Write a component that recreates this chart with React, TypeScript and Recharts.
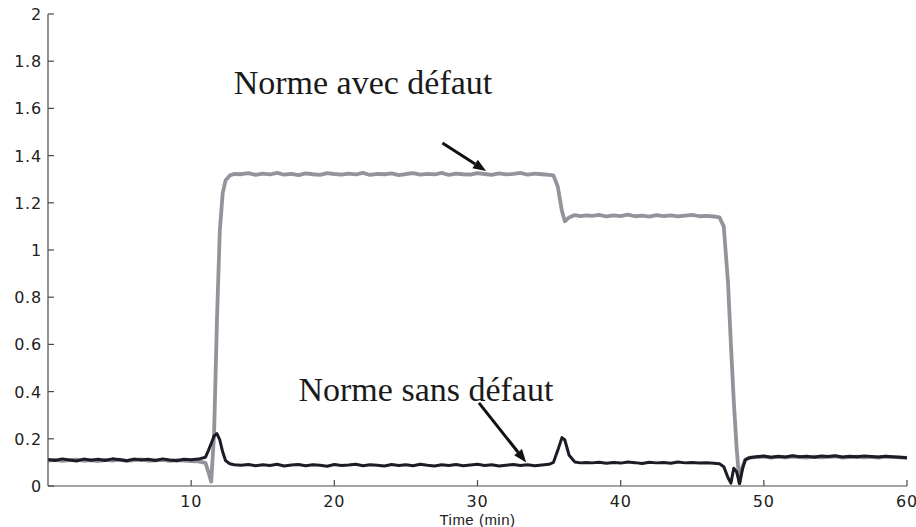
import React from "react"
import { LineChart, Line, XAxis, YAxis, ReferenceLine, ReferenceDot } from "recharts"

const time = [
  0, 0.5, 1, 1.5, 2, 2.5, 3, 3.5, 4, 4.5, 5, 5.5, 6, 6.5, 7, 7.5, 8, 8.5, 9, 9.5, 10, 10.5, 11,
  11.2, 11.4, 11.6, 11.8, 12, 12.2, 12.4, 12.7, 13,
  13.5, 14, 14.5, 15, 15.5, 16, 16.5, 17, 17.5, 18, 18.5, 19, 19.5, 20, 20.5, 21, 21.5, 22, 22.5, 23, 23.5, 24,
  24.5, 25, 25.5, 26, 26.5, 27, 27.5, 28, 28.5, 29, 29.5, 30, 30.5, 31, 31.5, 32, 32.5, 33, 33.5, 34, 34.5, 35,
  35.3, 35.6, 35.9, 36.1, 36.4, 36.8, 37.2, 37.6,
  38, 38.5, 39, 39.5, 40, 40.5, 41, 41.5, 42, 42.5, 43, 43.5, 44, 44.5, 45, 45.5, 46, 46.5,
  46.9, 47.2, 47.5, 47.7, 47.9, 48.1, 48.3, 48.5, 48.7, 49,
  49.5, 50, 50.5, 51, 51.5, 52, 52.5, 53, 53.5, 54, 54.5, 55, 55.5, 56, 56.5, 57, 57.5, 58, 58.5, 59, 59.5, 60,
]

// norme avec défaut (gris)
const normeAvecDefaut = [
  0.108, 0.111, 0.106, 0.11, 0.112, 0.107, 0.11, 0.105, 0.111, 0.108, 0.112, 0.106, 0.11, 0.113, 0.107, 0.109,
  0.111, 0.106, 0.11, 0.108, 0.106, 0.104, 0.098,
  0.06, 0.018, 0.22, 0.7, 1.08, 1.24, 1.295, 1.316, 1.322,
  1.321, 1.326, 1.318, 1.324, 1.32, 1.327, 1.319, 1.323, 1.317, 1.325,
  1.321, 1.318, 1.326, 1.322, 1.319, 1.324, 1.32, 1.327, 1.318, 1.323,
  1.321, 1.325, 1.317, 1.322, 1.326, 1.319, 1.323, 1.32, 1.327, 1.318,
  1.324, 1.321, 1.319, 1.326, 1.322, 1.318, 1.325, 1.32, 1.323, 1.327,
  1.319, 1.324, 1.321, 1.318,
  1.316, 1.27, 1.165, 1.122, 1.138, 1.148, 1.144, 1.147,
  1.145, 1.149, 1.142, 1.147, 1.144, 1.15, 1.143, 1.146, 1.141, 1.148, 1.144, 1.147, 1.142, 1.146, 1.149, 1.143,
  1.145, 1.142,
  1.138, 1.1, 0.86, 0.6, 0.36, 0.16, 0.012, 0.08, 0.112, 0.12,
  0.122, 0.124, 0.12, 0.123, 0.121, 0.125, 0.122, 0.12, 0.124, 0.121, 0.123, 0.125, 0.12, 0.122, 0.124, 0.121,
  0.123, 0.12, 0.124, 0.122, 0.121, 0.119,
]

// norme sans défaut (noir)
const normeSansDefaut = [
  0.112, 0.108, 0.115, 0.11, 0.106, 0.114, 0.109, 0.113, 0.108, 0.115, 0.111, 0.107, 0.114, 0.11, 0.113, 0.108,
  0.115, 0.11, 0.107, 0.113, 0.111, 0.114, 0.122,
  0.15, 0.18, 0.212, 0.222, 0.195, 0.145, 0.108, 0.094, 0.09,
  0.088, 0.091, 0.086, 0.09, 0.087, 0.092, 0.085, 0.089, 0.091, 0.086,
  0.09, 0.088, 0.084, 0.091, 0.087, 0.089, 0.092, 0.086, 0.09, 0.088,
  0.085, 0.091, 0.087, 0.09, 0.086, 0.092, 0.088, 0.085, 0.09, 0.087,
  0.091, 0.086, 0.089, 0.092, 0.087, 0.09, 0.085, 0.088, 0.091, 0.087,
  0.09, 0.086, 0.089, 0.092,
  0.1, 0.15, 0.205, 0.195, 0.13, 0.102, 0.098, 0.1,
  0.098, 0.101, 0.096, 0.1, 0.097, 0.102, 0.099, 0.095, 0.101, 0.098, 0.1, 0.096, 0.102, 0.098, 0.1, 0.097,
  0.099, 0.096,
  0.094, 0.082, 0.035, 0.012, 0.075, 0.06, 0.01, 0.07, 0.11, 0.12,
  0.124, 0.127, 0.122, 0.126, 0.123, 0.128, 0.124, 0.126, 0.122, 0.127, 0.125, 0.128, 0.123, 0.126, 0.124, 0.127,
  0.125, 0.123, 0.126, 0.124, 0.122, 0.12,
]

const xTicks = [10, 20, 30, 40, 50, 60]
const yTicks = [0, 0.2, 0.4, 0.6, 0.8, 1, 1.2, 1.4, 1.6, 1.8, 2]

const data = time.map((t, i) => ({ t, avec: normeAvecDefaut[i], sans: normeSansDefaut[i] }))

const AXIS = "#4a4a4a"
const TXT = "#222"
const TICK_LEN = 6
const tickFont = { fontFamily: "'DejaVu Sans', sans-serif", fontSize: 16, letterSpacing: 0.8 }

function BottomTick(props: any) {
  const { x, y, payload } = props
  const axisY = y - 8
  return (
    <g>
      <line x1={x} x2={x} y1={axisY} y2={axisY - TICK_LEN} stroke={AXIS} strokeWidth={1.2} />
      <text x={x} y={axisY + 21} textAnchor="middle" fill={TXT} style={tickFont}>
        {payload.value}
      </text>
    </g>
  )
}

function TopTick(props: any) {
  const { x, y } = props
  return <line x1={x} x2={x} y1={y} y2={y + TICK_LEN} stroke={AXIS} strokeWidth={1.2} />
}

function LeftTick(props: any) {
  const { x, y, payload } = props
  const axisX = x + 5
  return (
    <g>
      <line x1={axisX} x2={axisX + TICK_LEN} y1={y} y2={y} stroke={AXIS} strokeWidth={1.2} />
      <text x={axisX - 6} y={y + 6} textAnchor="end" fill={TXT} style={tickFont}>
        {payload.value}
      </text>
    </g>
  )
}

function RightTick(props: any) {
  const { x, y } = props
  return <line x1={x - TICK_LEN} x2={x} y1={y} y2={y} stroke={AXIS} strokeWidth={1.2} />
}

function Arrow(props: any) {
  const { x1, y1, x2, y2 } = props
  const dx = x2 - x1
  const dy = y2 - y1
  const len = Math.sqrt(dx * dx + dy * dy)
  const ux = dx / len
  const uy = dy / len
  const hl = 13
  const hw = 5
  const bx = x2 - ux * hl
  const by = y2 - uy * hl
  return (
    <g>
      <line x1={x1} y1={y1} x2={bx} y2={by} stroke="#111" strokeWidth={3} />
      <polygon
        points={`${x2},${y2} ${bx - uy * hw},${by + ux * hw} ${bx + uy * hw},${by - ux * hw}`}
        fill="#111"
      />
    </g>
  )
}

function Note(text: string) {
  return (props: any) => (
    <text
      x={props.cx}
      y={props.cy + 11}
      textAnchor="middle"
      fill="#1a1a1a"
      style={{ fontFamily: "'Liberation Serif', serif", fontSize: 34 }}
    >
      {text}
    </text>
  )
}

export default function App() {
  return (
    <div style={{ position: "absolute", left: 0, top: 0, width: 916, height: 527, background: "#fff" }}>
      <LineChart width={916} height={527} data={data} margin={{ top: 14, right: 9, bottom: 0, left: 0 }}>
        <XAxis
          dataKey="t"
          type="number"
          domain={[0, 60]}
          ticks={xTicks}
          tickSize={0}
          tickMargin={8}
          height={41}
          stroke={AXIS}
          axisLine={{ stroke: AXIS, strokeWidth: 1.2 }}
          tick={<BottomTick />}
          label={{
            value: "Time (min)",
            position: "insideBottom",
            offset: 2,
            fill: TXT,
            style: { fontFamily: "'Liberation Sans', sans-serif", fontSize: 15, letterSpacing: 0.5 },
          }}
        />
        <XAxis
          xAxisId="top"
          orientation="top"
          dataKey="t"
          type="number"
          domain={[0, 60]}
          ticks={xTicks}
          tickSize={0}
          tickMargin={0}
          height={0}
          axisLine={{ stroke: AXIS, strokeWidth: 1.2 }}
          tick={<TopTick />}
        />
        <YAxis
          type="number"
          domain={[0, 2]}
          ticks={yTicks}
          tickSize={0}
          tickMargin={5}
          width={48}
          axisLine={{ stroke: AXIS, strokeWidth: 1.2 }}
          tick={<LeftTick />}
        />
        <YAxis
          yAxisId="right"
          orientation="right"
          type="number"
          domain={[0, 2]}
          ticks={yTicks}
          tickSize={0}
          tickMargin={0}
          width={0}
          axisLine={{ stroke: AXIS, strokeWidth: 1.2 }}
          tick={<RightTick />}
        />
        <Line
          dataKey="avec"
          stroke="#93939b"
          strokeWidth={3.8}
          dot={false}
          isAnimationActive={false}
          strokeLinejoin="round"
        />
        <Line
          dataKey="sans"
          stroke="#1c1c28"
          strokeWidth={3}
          dot={false}
          isAnimationActive={false}
          strokeLinejoin="round"
        />
        <ReferenceLine
          segment={[{ x: 27.55, y: 1.453 }, { x: 30.6, y: 1.335 }]}
          ifOverflow="visible"
          shape={Arrow}
        />
        <ReferenceLine
          segment={[{ x: 30.1, y: 0.352 }, { x: 33.4, y: 0.1 }]}
          ifOverflow="visible"
          shape={Arrow}
        />
        <ReferenceDot x={22} y={1.708} r={0} ifOverflow="visible" shape={Note("Norme avec défaut")} />
        <ReferenceDot x={26.4} y={0.407} r={0} ifOverflow="visible" shape={Note("Norme sans défaut")} />
      </LineChart>
    </div>
  )
}
